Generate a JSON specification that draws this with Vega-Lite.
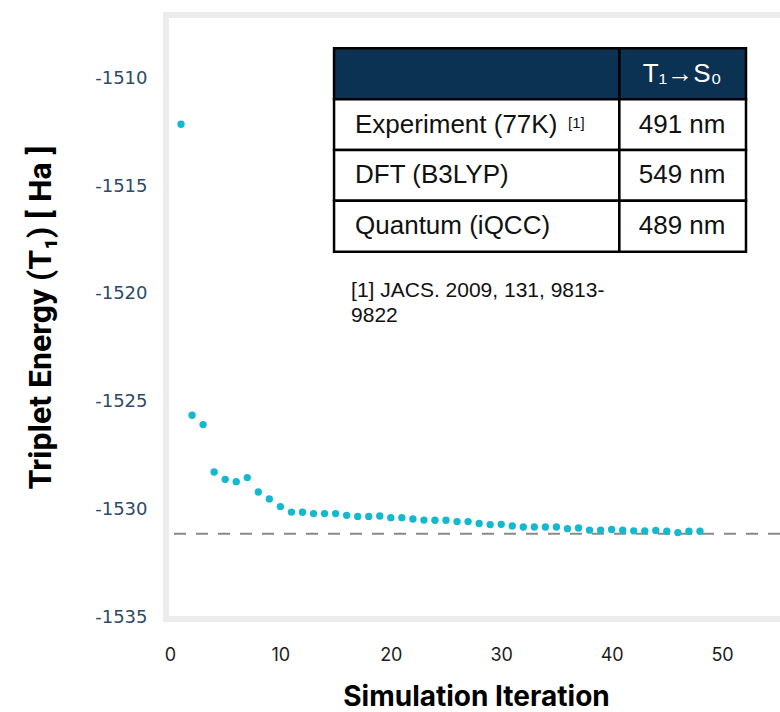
{
  "$schema": "https://vega.github.io/schema/vega-lite/v6.json",
  "width": 614,
  "height": 604,
  "autosize": {"type": "none"},
  "padding": {"left": 166, "top": 15, "right": 0, "bottom": 93},
  "background": "white",
  "config": {"view": {"stroke": null}},
  "datasets": {
    "energy": [
      {"iter": 1, "energy": -1512.13},
      {"iter": 2, "energy": -1525.63},
      {"iter": 3, "energy": -1526.06},
      {"iter": 4, "energy": -1528.26},
      {"iter": 5, "energy": -1528.60},
      {"iter": 6, "energy": -1528.71},
      {"iter": 7, "energy": -1528.52},
      {"iter": 8, "energy": -1529.19},
      {"iter": 9, "energy": -1529.51},
      {"iter": 10, "energy": -1529.87},
      {"iter": 11, "energy": -1530.12},
      {"iter": 12, "energy": -1530.13},
      {"iter": 13, "energy": -1530.19},
      {"iter": 14, "energy": -1530.19},
      {"iter": 15, "energy": -1530.19},
      {"iter": 16, "energy": -1530.27},
      {"iter": 17, "energy": -1530.32},
      {"iter": 18, "energy": -1530.32},
      {"iter": 19, "energy": -1530.30},
      {"iter": 20, "energy": -1530.38},
      {"iter": 21, "energy": -1530.38},
      {"iter": 22, "energy": -1530.44},
      {"iter": 23, "energy": -1530.49},
      {"iter": 24, "energy": -1530.50},
      {"iter": 25, "energy": -1530.50},
      {"iter": 26, "energy": -1530.56},
      {"iter": 27, "energy": -1530.56},
      {"iter": 28, "energy": -1530.65},
      {"iter": 29, "energy": -1530.70},
      {"iter": 30, "energy": -1530.69},
      {"iter": 31, "energy": -1530.76},
      {"iter": 32, "energy": -1530.81},
      {"iter": 33, "energy": -1530.81},
      {"iter": 34, "energy": -1530.81},
      {"iter": 35, "energy": -1530.81},
      {"iter": 36, "energy": -1530.89},
      {"iter": 37, "energy": -1530.86},
      {"iter": 38, "energy": -1530.96},
      {"iter": 39, "energy": -1530.96},
      {"iter": 40, "energy": -1530.93},
      {"iter": 41, "energy": -1530.96},
      {"iter": 42, "energy": -1530.99},
      {"iter": 43, "energy": -1530.99},
      {"iter": 44, "energy": -1530.97},
      {"iter": 45, "energy": -1531.01},
      {"iter": 46, "energy": -1531.07},
      {"iter": 47, "energy": -1531.01},
      {"iter": 48, "energy": -1531.01}
    ],
    "table": [
      {"row": "header", "method": "", "value": "T₁→S₀", "note": ""},
      {"row": "exp", "method": "Experiment (77K)", "value": "491 nm", "note": "[1]"},
      {"row": "dft", "method": "DFT (B3LYP)", "value": "549 nm", "note": ""},
      {"row": "qcc", "method": "Quantum (iQCC)", "value": "489 nm", "note": ""}
    ],
    "note": [
      {"text": "[1] JACS. 2009, 131, 9813-\n9822"}
    ]
  },
  "layer": [
    {
      "data": {"values": [{}]},
      "mark": {"type": "rule", "color": "#ececec", "strokeWidth": 6, "strokeCap": "square"},
      "encoding": {
        "y": {"datum": -1507.06, "type": "quantitative", "scale": {"domain": [-1535.08, -1507.06], "nice": false, "zero": false}, "axis": null}
      }
    },
    {
      "data": {"values": [{}]},
      "mark": {"type": "rule", "color": "#ececec", "strokeWidth": 6, "strokeCap": "square"},
      "encoding": {
        "y": {"datum": -1535.08, "type": "quantitative", "scale": {"domain": [-1535.08, -1507.06], "nice": false, "zero": false}, "axis": null}
      }
    },
    {
      "data": {"values": [{}]},
      "mark": {"type": "rule", "color": "#ececec", "strokeWidth": 6, "strokeCap": "square"},
      "encoding": {
        "x": {"datum": -0.36, "type": "quantitative", "scale": {"domain": [-0.36, 55.25], "nice": false, "zero": false}}
      }
    },
    {
      "data": {"values": [{}]},
      "mark": {"type": "rule", "color": "#8a8a8a", "strokeWidth": 2, "strokeDash": [12, 10]},
      "encoding": {
        "y": {"datum": -1531.12, "type": "quantitative", "scale": {"domain": [-1535.08, -1507.06], "nice": false, "zero": false}, "axis": null}
      }
    },
    {
      "data": {"name": "energy"},
      "mark": {"type": "circle", "color": "#14b8cf", "size": 54, "opacity": 1},
      "encoding": {
        "x": {
          "field": "iter",
          "type": "quantitative",
          "scale": {"domain": [-0.36, 55.25], "nice": false, "zero": false},
          "axis": {
            "title": "Simulation Iteration",
            "values": [0, 10, 20, 30, 40, 50],
            "grid": false,
            "domain": false,
            "ticks": false,
            "labelFont": "Inter",
            "labelFontSize": 18,
            "labelColor": "#1c1c1c",
            "labelBaseline": "middle",
            "labelPadding": 36,
            "titleFont": "Inter",
            "titleFontSize": 28,
            "titleFontWeight": "bold",
            "titleColor": "#000000",
            "titleBaseline": "alphabetic",
            "titleY": 86,
            "titleX": 310
          }
        },
        "y": {
          "field": "energy",
          "type": "quantitative",
          "scale": {"domain": [-1535.08, -1507.06], "nice": false, "zero": false},
          "axis": {
            "title": "Triplet Energy (T₁)  [ Ha ]",
            "values": [-1535, -1530, -1525, -1520, -1515, -1510],
            "labelExpr": "'-' + format(abs(datum.value), 'd')",
            "grid": false,
            "domain": false,
            "ticks": false,
            "labelFont": "DejaVu Sans",
            "labelFontSize": 18,
            "labelColor": "#2d4a68",
            "labelPadding": 19,
            "titleFont": "Roboto",
            "titleFontSize": 32,
            "titleFontWeight": "bold",
            "titleColor": "#000000",
            "titleBaseline": "alphabetic",
            "titleX": -116
          }
        }
      }
    },
    {
      "data": {"name": "note"},
      "mark": {"type": "text", "align": "left", "baseline": "middle", "font": "Liberation Sans", "fontSize": 21, "lineBreak": "\n", "lineHeight": 25, "color": "#111111"},
      "encoding": {
        "x": {"datum": 16.4, "type": "quantitative", "scale": {"domain": [-0.36, 55.25], "nice": false, "zero": false}},
        "y": {"datum": -1519.87, "type": "quantitative", "scale": {"domain": [-1535.08, -1507.06], "nice": false, "zero": false}, "axis": null},
        "text": {"field": "text"}
      }
    },
    {
      "data": {"name": "table"},
      "mark": {"type": "rect", "stroke": "#000000", "strokeWidth": 2.5},
      "encoding": {
        "y": {"field": "row", "type": "nominal", "scale": {"domain": ["header", "exp", "dft", "qcc"], "range": [33.3, 236.7], "paddingInner": 0, "paddingOuter": 0}, "axis": null},
        "x": {"datum": 14.86, "type": "quantitative", "scale": {"domain": [-0.36, 55.25], "nice": false, "zero": false}},
        "x2": {"datum": 40.7},
        "fill": {"condition": {"test": "datum.row === 'header'", "value": "#0b3153"}, "value": "#ffffff"}
      }
    },
    {
      "data": {"name": "table"},
      "mark": {"type": "rect", "stroke": "#000000", "strokeWidth": 2.5},
      "encoding": {
        "y": {"field": "row", "type": "nominal", "scale": {"domain": ["header", "exp", "dft", "qcc"], "range": [33.3, 236.7], "paddingInner": 0, "paddingOuter": 0}, "axis": null},
        "x": {"datum": 40.7, "type": "quantitative", "scale": {"domain": [-0.36, 55.25], "nice": false, "zero": false}},
        "x2": {"datum": 52.17},
        "fill": {"condition": {"test": "datum.row === 'header'", "value": "#0b3153"}, "value": "#ffffff"}
      }
    },
    {
      "data": {"name": "table"},
      "mark": {"type": "text", "align": "left", "baseline": "middle", "font": "Liberation Sans", "fontSize": 26, "color": "#111111"},
      "encoding": {
        "y": {"field": "row", "type": "nominal", "scale": {"domain": ["header", "exp", "dft", "qcc"], "range": [33.3, 236.7], "paddingInner": 0, "paddingOuter": 0}, "axis": null},
        "x": {"datum": 16.76, "type": "quantitative", "scale": {"domain": [-0.36, 55.25], "nice": false, "zero": false}},
        "text": {"field": "method"}
      }
    },
    {
      "data": {"name": "table"},
      "mark": {"type": "text", "align": "left", "baseline": "middle", "font": "Liberation Sans", "fontSize": 15, "dy": -2, "color": "#111111"},
      "encoding": {
        "y": {"field": "row", "type": "nominal", "scale": {"domain": ["header", "exp", "dft", "qcc"], "range": [33.3, 236.7], "paddingInner": 0, "paddingOuter": 0}, "axis": null},
        "x": {"datum": 36.05, "type": "quantitative", "scale": {"domain": [-0.36, 55.25], "nice": false, "zero": false}},
        "text": {"field": "note"}
      }
    },
    {
      "data": {"name": "table"},
      "mark": {"type": "text", "align": "center", "baseline": "middle", "font": "Liberation Sans", "fontSize": 26},
      "encoding": {
        "y": {"field": "row", "type": "nominal", "scale": {"domain": ["header", "exp", "dft", "qcc"], "range": [33.3, 236.7], "paddingInner": 0, "paddingOuter": 0}, "axis": null},
        "x": {"datum": 46.38, "type": "quantitative", "scale": {"domain": [-0.36, 55.25], "nice": false, "zero": false}},
        "text": {"field": "value"},
        "color": {"condition": {"test": "datum.row === 'header'", "value": "#ffffff"}, "value": "#111111"}
      }
    }
  ],
  "resolve": {"scale": {"y": "independent"}}
}
